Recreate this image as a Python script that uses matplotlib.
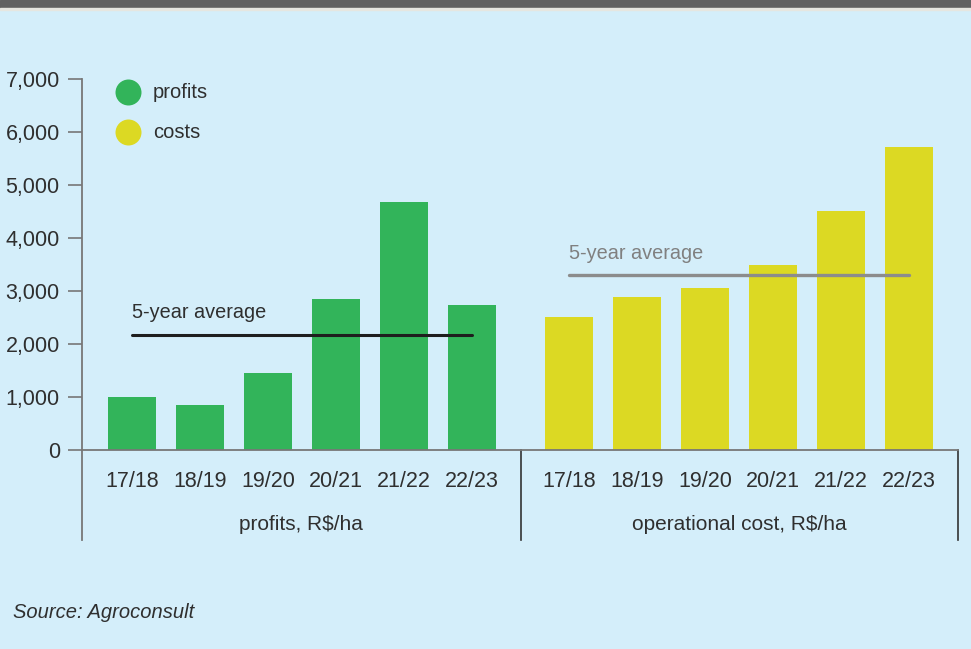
import numpy as np
import matplotlib
matplotlib.use("Agg")
import matplotlib.pyplot as plt
from matplotlib.patches import Rectangle
import matplotlib.transforms as mtransforms

plt.rcParams['font.family'] = ['Liberation Sans', 'DejaVu Sans']

seasons = ['17/18', '18/19', '19/20', '20/21', '21/22', '22/23']
profits = [1000, 850, 1450, 2850, 4680, 2740]
costs = [2510, 2880, 3060, 3490, 4510, 5720]
profits_avg = 2170
costs_avg = 3300
group_labels = ['profits, R$/ha', 'operational cost, R$/ha']
y_ticks = [0, 1000, 2000, 3000, 4000, 5000, 6000, 7000]

green = '#32b45a'
yellow = '#dcd923'
bg = '#d4eefa'
txt = '#2f2f2f'

# positions: two groups of six bars with a gap
gap = 1.426
x_p = np.arange(len(seasons))
x_c = x_p + len(seasons) - 1 + gap
sep = (x_p[-1] + x_c[0]) / 2
bw = 0.706

fig = plt.figure(figsize=(9.71, 6.49), dpi=100, facecolor=bg)
ax = fig.add_axes([82 / 971, 1 - 450 / 649, 876 / 971, 371 / 649])
ax.set_facecolor(bg)

# top band
fig.patches.append(Rectangle((0, 1 - 8 / 649), 1, 8 / 649, transform=fig.transFigure,
                             color='#616161', zorder=5))
fig.patches.append(Rectangle((0, 1 - 10 / 649), 1, 2 / 649, transform=fig.transFigure,
                             color='#e6e6e0', zorder=5))

ax.bar(x_p, profits, width=bw, color=green, zorder=2)
ax.bar(x_c, costs, width=bw, color=yellow, zorder=2)

ax.plot([x_p[0], x_p[-1]], [profits_avg, profits_avg], color='#1e1e1e', lw=2.2,
        solid_capstyle='round', zorder=3)
ax.plot([x_c[0], x_c[-1]], [costs_avg, costs_avg], color='#8c8c8c', lw=2.4,
        solid_capstyle='round', zorder=3)
ax.text(x_p[0], profits_avg + 240, '5-year average', fontsize=14.3, color=txt,
        ha='left', va='bottom')
ax.text(x_c[0], costs_avg + 230, '5-year average', fontsize=14.3, color='#808080',
        ha='left', va='bottom')

ax.set_xlim(x_p[0] - 0.735, x_c[-1] + 0.72)
ax.set_ylim(0, 7000)
ax.set_yticks(y_ticks)
ax.set_yticklabels([f'{v:,}' for v in y_ticks], fontsize=15.5, color=txt)
ax.tick_params(axis='y', length=10, width=1.2, color='#777777', pad=6)

ax.set_xticks(np.concatenate([x_p, x_c]))
ax.set_xticklabels(seasons + seasons, fontsize=15.5, color=txt)
ax.tick_params(axis='x', length=0, pad=15)

for s in ['top', 'right']:
    ax.spines[s].set_visible(False)
ax.spines['left'].set_color('#777777')
ax.spines['left'].set_linewidth(1.3)
ax.spines['bottom'].set_color('#777777')
ax.spines['bottom'].set_linewidth(1.3)

# box lines under the axis
trans = mtransforms.blended_transform_factory(ax.transData, ax.transAxes)
drop = -90 / 371
ax.plot([0, 0], [0, drop], transform=ax.transAxes, color='#777777', lw=1.3, clip_on=False)
ax.plot([sep, sep], [0, drop], transform=trans, color='#333333', lw=1.2, clip_on=False)
ax.plot([1, 1], [0, drop], transform=ax.transAxes, color='#333333', lw=1.2, clip_on=False)

xl = ax.get_xlim()
ax.text((xl[0] + sep) / 2, -75 / 371, group_labels[0], transform=trans, fontsize=15,
        color=txt, ha='center', va='center')
ax.text((sep + xl[1]) / 2, -75 / 371, group_labels[1], transform=trans, fontsize=15,
        color=txt, ha='center', va='center')

# legend
for yy, col, lab in [(92, green, 'profits'), (132, yellow, 'costs')]:
    ya = (450 - yy) / 371
    ax.scatter([(128 - 82) / 876], [ya], transform=ax.transAxes, s=350, color=col,
               clip_on=False, zorder=4, linewidths=0)
    ax.text((153 - 82) / 876, ya, lab, transform=ax.transAxes, fontsize=14.5,
            color=txt, ha='left', va='center')

fig.text(13 / 971, 1 - 612 / 649, 'Source: Agroconsult', fontsize=14.5, style='italic',
         color=txt, ha='left', va='center')

fig.savefig('out.png', dpi=100, facecolor=bg)
